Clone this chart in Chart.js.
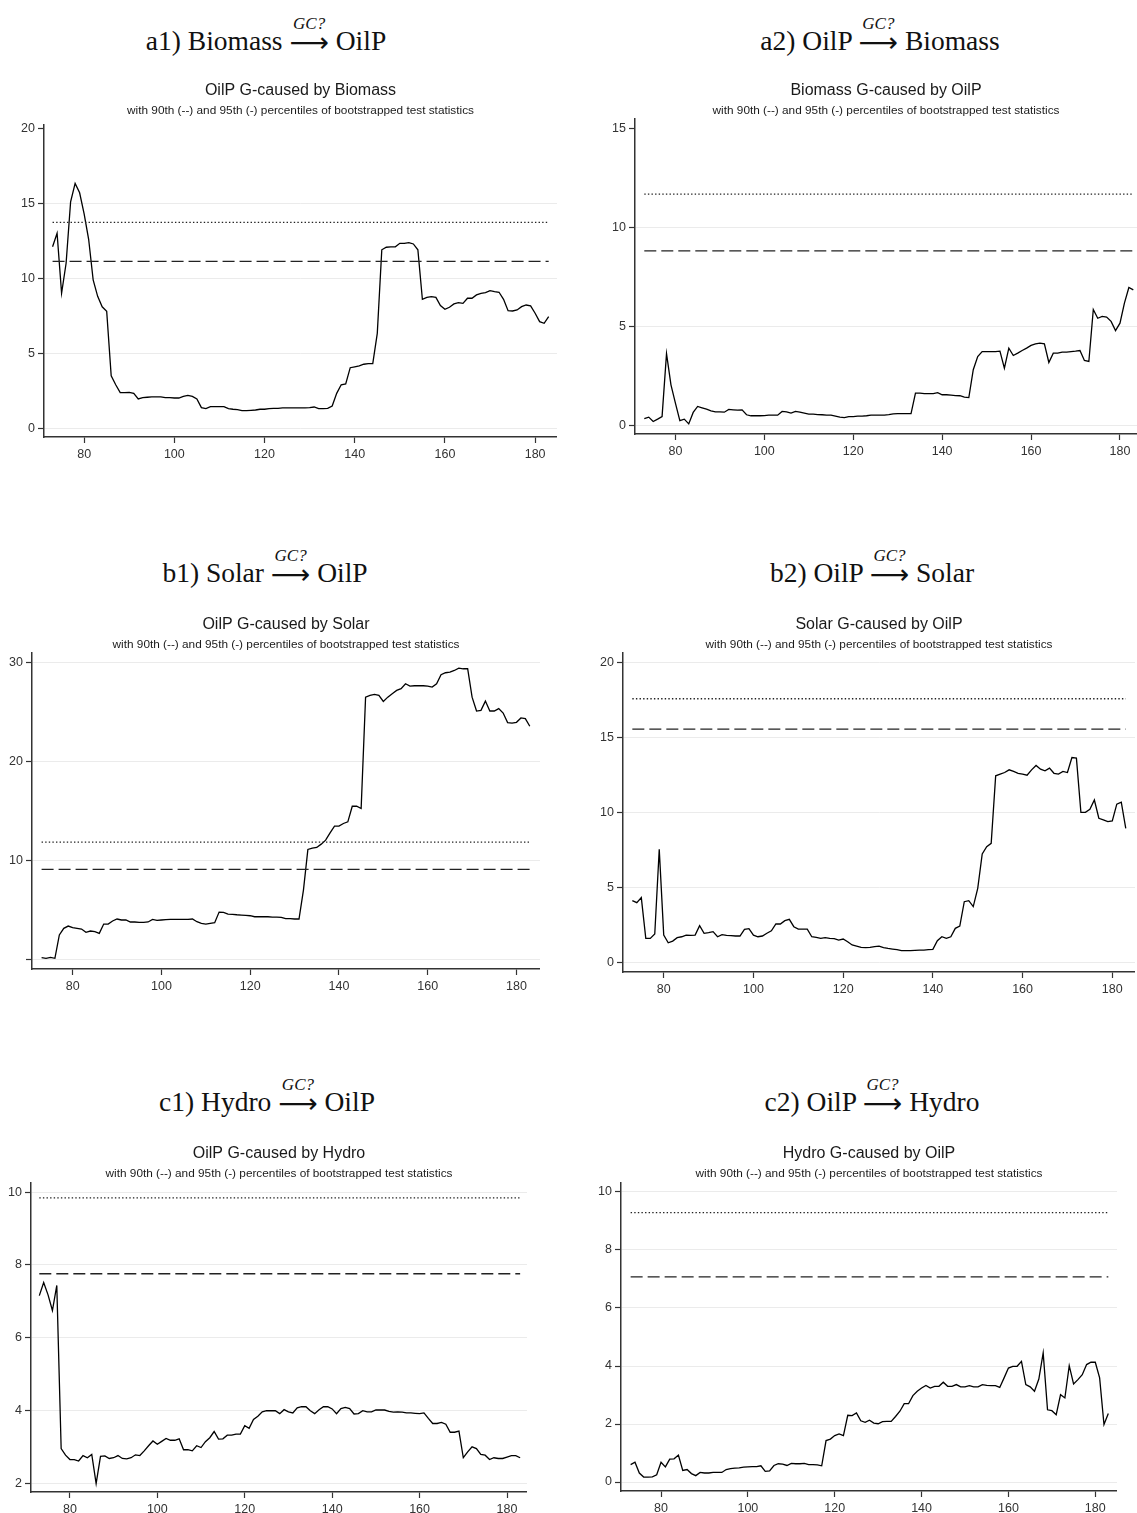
<!DOCTYPE html>
<html>
<head>
<meta charset="utf-8">
<script src="https://cdn.jsdelivr.net/npm/chart.js@4.4.1/dist/chart.umd.min.js"></script>
<style>
  body { margin: 0; background: #fff; width: 1137px; height: 1513px; position: relative; overflow: hidden; }
  canvas { position: absolute; }
  .big {
    position: absolute;
    font-family: "Liberation Serif", "Times New Roman", serif;
    font-size: 27.5px;
    line-height: 27.5px;
    color: #111;
    white-space: nowrap;
    transform: translateX(-50%);
  }
  .ov { position: relative; display: inline-block; }
  .ov .gc {
    position: absolute; left: 50%; top: -12px;
    transform: translateX(-50%);
    font-style: italic; font-size: 17px; line-height: 17px;
  }
  .ov .ar { position: relative; top: 2px; font-family: "DejaVu Sans", sans-serif; }
</style>
</head>
<body>
<script>
// x axis: periods 73..183
const periods = Array.from({ length: 111 }, (_, i) => 73 + i);
const xTicks = [80, 100, 120, 140, 160, 180];

// a1) OilP G-caused by Biomass
const biomassToOil = [
  12.1, 13.0, 9.0, 11.0, 15.1, 16.33, 15.7, 14.3, 12.6, 9.9,
  8.8, 8.1, 7.8, 3.5, 2.9, 2.38, 2.38, 2.4, 2.33, 1.96,
  2.04, 2.07, 2.09, 2.09, 2.1, 2.04, 2.04, 2.02, 2.02, 2.13,
  2.2, 2.13, 1.96, 1.38, 1.31, 1.44, 1.44, 1.44, 1.44, 1.31,
  1.27, 1.24, 1.18, 1.18, 1.2, 1.22, 1.27, 1.27, 1.31, 1.33,
  1.33, 1.36, 1.36, 1.36, 1.36, 1.36, 1.36, 1.38, 1.42, 1.31,
  1.31, 1.33, 1.49, 2.33, 2.9, 2.96, 4.04, 4.1, 4.16, 4.27,
  4.31, 4.31, 6.33, 11.9, 12.07, 12.1, 12.1, 12.33, 12.33, 12.38,
  12.29, 11.9, 8.6, 8.73, 8.78, 8.73, 8.18, 7.93, 8.07, 8.29,
  8.38, 8.33, 8.67, 8.67, 8.89, 9.0, 9.04, 9.18, 9.11, 9.07,
  8.6, 7.84, 7.82, 7.89, 8.11, 8.22, 8.16, 7.67, 7.11, 7.0, 7.44
];

// a2) Biomass G-caused by OilP
const oilToBiomass = [
  0.34, 0.42, 0.2, 0.32, 0.45, 3.62, 2.05, 1.13, 0.24, 0.32,
  0.08, 0.66, 0.96, 0.89, 0.82, 0.74, 0.69, 0.69, 0.67, 0.81,
  0.79, 0.77, 0.79, 0.54, 0.49, 0.49, 0.49, 0.5, 0.52, 0.52,
  0.52, 0.71, 0.69, 0.62, 0.71, 0.67, 0.62, 0.57, 0.57, 0.55,
  0.54, 0.52, 0.52, 0.47, 0.42, 0.4, 0.45, 0.45, 0.47, 0.47,
  0.49, 0.52, 0.52, 0.52, 0.52, 0.55, 0.59, 0.6, 0.6, 0.6,
  0.6, 1.63, 1.63, 1.61, 1.61, 1.61, 1.66, 1.55, 1.55, 1.53,
  1.51, 1.5, 1.43, 1.41, 2.81, 3.48, 3.73, 3.73, 3.73, 3.73,
  3.75, 2.89, 3.9, 3.53, 3.65, 3.78, 3.9, 4.04, 4.12, 4.15,
  4.12, 3.18, 3.65, 3.65, 3.7, 3.7, 3.73, 3.75, 3.78, 3.28,
  3.23, 5.85, 5.41, 5.5, 5.47, 5.25, 4.79, 5.16, 6.17, 6.96, 6.84
];

// b1) OilP G-caused by Solar
const solarToOil = [
  0.23, 0.17, 0.27, 0.17, 2.52, 3.19, 3.42, 3.26, 3.19, 3.12,
  2.79, 2.92, 2.85, 2.68, 3.62, 3.62, 3.93, 4.13, 4.03, 4.03,
  3.83, 3.83, 3.79, 3.79, 3.83, 4.09, 3.99, 4.03, 4.06, 4.09,
  4.09, 4.09, 4.09, 4.09, 4.13, 3.86, 3.69, 3.62, 3.69, 3.76,
  4.83, 4.8, 4.63, 4.6, 4.56, 4.53, 4.5, 4.46, 4.36, 4.36,
  4.36, 4.36, 4.33, 4.33, 4.3, 4.16, 4.16, 4.13, 4.13, 7.05,
  11.14, 11.28, 11.34, 11.68, 12.08, 12.82, 13.49, 13.49, 13.76, 13.93,
  15.5, 15.5, 15.27, 26.5, 26.68, 26.78, 26.68, 26.07, 26.5, 26.85,
  27.18, 27.35, 27.85, 27.62, 27.65, 27.65, 27.65, 27.62, 27.52, 27.85,
  28.76, 28.96, 29.03, 29.19, 29.43, 29.36, 29.36, 26.5, 25.1, 25.17,
  26.1, 25.1, 25.1, 25.34, 24.9, 23.93, 23.89, 23.96, 24.4, 24.33, 23.56
];

// b2) Solar G-caused by OilP
const oilToSolar = [
  4.12, 3.98, 4.32, 1.6, 1.6, 1.89, 7.54, 1.82, 1.31, 1.42,
  1.65, 1.71, 1.82, 1.8, 1.82, 2.45, 1.94, 1.98, 2.05, 1.71,
  1.85, 1.8, 1.78, 1.76, 1.76, 2.2, 2.25, 1.82, 1.71, 1.76,
  1.94, 2.11, 2.56, 2.56, 2.78, 2.87, 2.38, 2.22, 2.22, 2.22,
  1.71, 1.67, 1.6, 1.65, 1.6, 1.58, 1.49, 1.56, 1.38, 1.16,
  1.09, 1.0, 0.98, 1.0, 1.05, 1.09, 0.98, 0.93, 0.89, 0.85,
  0.78, 0.78, 0.78, 0.8, 0.82, 0.82, 0.85, 0.87, 1.45, 1.71,
  1.6, 1.71, 2.27, 2.42, 4.05, 4.12, 3.72, 4.94, 7.23, 7.72,
  7.94, 12.44, 12.55, 12.66, 12.84, 12.73, 12.61, 12.55, 12.48, 12.84,
  13.13, 12.88, 12.77, 12.95, 12.61, 12.55, 12.73, 12.66, 13.66, 13.62,
  10.01, 10.01, 10.21, 10.83, 9.61, 9.5, 9.39, 9.43, 10.55, 10.68, 8.94
];

// c1) OilP G-caused by Hydro
const hydroToOil = [
  7.16, 7.52, 7.18, 6.75, 7.44, 2.96, 2.78, 2.66, 2.66, 2.62,
  2.77, 2.71, 2.8, 2.0, 2.75, 2.76, 2.69, 2.71, 2.77, 2.69,
  2.68, 2.71, 2.79, 2.77, 2.9, 3.04, 3.17, 3.08, 3.16, 3.24,
  3.19, 3.19, 3.23, 2.93, 2.93, 2.9, 3.04, 2.99, 3.15, 3.26,
  3.43, 3.22, 3.23, 3.33, 3.33, 3.36, 3.36, 3.59, 3.52, 3.76,
  3.85, 3.97, 4.0, 4.0, 4.0, 3.92, 4.03, 3.97, 3.94, 4.08,
  4.11, 4.11, 4.0, 3.92, 4.03, 4.11, 4.11, 4.05, 3.92, 4.06,
  4.09, 4.06, 3.91, 3.92, 4.0, 3.97, 3.97, 4.02, 4.02, 4.02,
  3.98, 3.96, 3.97, 3.96, 3.94, 3.94, 3.93, 3.92, 3.94, 3.79,
  3.65, 3.65, 3.68, 3.63, 3.41, 3.41, 3.44, 2.71, 2.87, 3.01,
  2.96, 2.8, 2.78, 2.66, 2.71, 2.69, 2.69, 2.73, 2.77, 2.77, 2.71
];

// c2) Hydro G-caused by OilP
const oilToHydro = [
  0.6, 0.68, 0.31, 0.17, 0.17, 0.18, 0.25, 0.68, 0.52, 0.79,
  0.8, 0.93, 0.4, 0.43, 0.29, 0.22, 0.33, 0.31, 0.31, 0.33,
  0.33, 0.33, 0.43, 0.46, 0.48, 0.49, 0.51, 0.52, 0.53, 0.53,
  0.56, 0.37, 0.38, 0.57, 0.63, 0.62, 0.57, 0.64, 0.63, 0.63,
  0.64, 0.6, 0.6, 0.59, 0.56, 1.43, 1.48, 1.6, 1.66, 1.6,
  2.3, 2.29, 2.38, 2.11, 2.06, 2.13, 2.03, 2.01, 2.08, 2.09,
  2.09, 2.26, 2.44, 2.7, 2.7, 2.98, 3.13, 3.24, 3.33, 3.24,
  3.3, 3.3, 3.44, 3.3, 3.3, 3.36, 3.28, 3.28, 3.32, 3.28,
  3.28, 3.36, 3.33, 3.32, 3.32, 3.26, 3.59, 3.93, 3.99, 3.99,
  4.16, 3.36, 3.28, 3.13, 3.55, 4.45, 2.49, 2.46, 2.32, 3.01,
  2.9, 4.01, 3.38, 3.53, 3.7, 4.05, 4.13, 4.13, 3.59, 1.98, 2.36
];

// bootstrapped percentiles, panel order a1 a2 b1 b2 c1 c2
const pct90 = [11.13, 8.81, 9.13, 15.55, 7.76, 7.07];   // dashed
const pct95 = [13.73, 11.67, 11.88, 17.58, 9.84, 9.29]; // dotted

const yTicksA1 = [0, 5, 10, 15, 20];
const yTicksA2 = [0, 5, 10, 15];
const yTicksB1 = [0, 10, 20, 30];
const yLabelsB1 = ['', '10', '20', '30']; // zero label is cut off in the original
const yTicksB2 = [0, 5, 10, 15, 20];
const yTicksC1 = [2, 4, 6, 8, 10];
const yTicksC2 = [0, 2, 4, 6, 8, 10];

const SANS = "'Liberation Sans', Arial, sans-serif";
const SUBTITLE = 'with 90th (--) and 95th (-) percentiles of bootstrapped test statistics';
Chart.defaults.font.family = SANS;

// layout of each panel (page pixels)
const panels = [
  { head: 'a1) Biomass', tail: 'OilP', title: 'OilP G-caused by Biomass', values: biomassToOil, yTicks: yTicksA1,
    noTopGrid: true, bigX: 266, bigBase: 49.5, titleMid: 91,
    L: 44, R: 557, T: 125, B: 437, xMin: 71.1, xMax: 184.85, yMin: -0.58, yMax: 20.22 },
  { head: 'a2) OilP', tail: 'Biomass', title: 'Biomass G-caused by OilP', values: oilToBiomass, yTicks: yTicksA2,
    noTopGrid: true, bigX: 880, bigBase: 49.5, titleMid: 91,
    L: 635, R: 1137, T: 119, B: 434, xMin: 70.91, xMax: 183.83, yMin: -0.43, yMax: 15.46 },
  { head: 'b1) Solar', tail: 'OilP', title: 'OilP G-caused by Solar', values: solarToOil, yTicks: yTicksB1, yLabels: yLabelsB1,
    bigX: 265, bigBase: 582, titleMid: 624.5,
    L: 32, R: 540, T: 653, B: 969, xMin: 70.84, xMax: 185.3, yMin: -0.91, yMax: 30.95 },
  { head: 'b2) OilP', tail: 'Solar', title: 'Solar G-caused by OilP', values: oilToSolar, yTicks: yTicksB2,
    bigX: 872, bigBase: 582, titleMid: 624.5,
    L: 623, R: 1135, T: 653, B: 972, xMin: 70.92, xMax: 185.06, yMin: -0.64, yMax: 20.63 },
  { head: 'c1) Hydro', tail: 'OilP', title: 'OilP G-caused by Hydro', values: hydroToOil, yTicks: yTicksC1,
    bigX: 267, bigBase: 1111, titleMid: 1154,
    L: 31, R: 527, T: 1183, B: 1492, xMin: 71.1, xMax: 184.57, yMin: 1.77, yMax: 10.25 },
  { head: 'c2) OilP', tail: 'Hydro', title: 'Hydro G-caused by OilP', values: oilToHydro, yTicks: yTicksC2,
    bigX: 872, bigBase: 1111, titleMid: 1154,
    L: 621, R: 1117, T: 1183, B: 1491, xMin: 70.78, xMax: 185.0, yMin: -0.31, yMax: 10.31 }
];

const YW = 30;      // y axis box width
const XH = 30;      // x axis box height
const TITLE_SIZE = 16;
const SUB_SIZE = 11.8;
const TICK_SIZE = 12.5;

panels.forEach((p, i) => {
    // big serif heading with GC? over the arrow
    const big = document.createElement('div');
    big.className = 'big';
    big.style.left = p.bigX + 'px';
    big.style.top = (p.bigBase - 23) + 'px';
    big.innerHTML = `${p.head} <span class="ov"><span class="gc">GC?</span><span class="ar">⟶</span></span> ${p.tail}`;
    document.body.appendChild(big);

    const top = Math.round(p.titleMid - 11.6);
    const headerH = p.T - top;
    const subPadBottom = Math.max(0, headerH - (2 + TITLE_SIZE * 1.2 + 3.2 + SUB_SIZE * 1.2));

    const canvas = document.createElement('canvas');
    canvas.width = p.R - p.L + YW;
    canvas.height = p.B - top + XH;
    canvas.style.left = (p.L - YW) + 'px';
    canvas.style.top = top + 'px';
    canvas.style.width = canvas.width + 'px';
    canvas.style.height = canvas.height + 'px';
    document.body.appendChild(canvas);

    const first = periods[0], last = periods[periods.length - 1];
    const labels = p.yLabels || p.yTicks.map(String);
    const topTick = p.yTicks[p.yTicks.length - 1];

    new Chart(canvas.getContext('2d'), {
        type: 'line',
        data: {
            datasets: [
                {
                    data: [{ x: first, y: pct95[i] }, { x: last, y: pct95[i] }],
                    borderColor: '#222', borderWidth: 1.3, borderDash: [1.4, 2.2],
                    pointRadius: 0
                },
                {
                    data: [{ x: first, y: pct90[i] }, { x: last, y: pct90[i] }],
                    borderColor: '#222', borderWidth: 1.3, borderDash: [12, 5],
                    pointRadius: 0
                },
                {
                    data: periods.map((t, k) => ({ x: t, y: p.values[k] })),
                    borderColor: '#000', borderWidth: 1.3, tension: 0,
                    pointRadius: 0
                }
            ]
        },
        options: {
            responsive: false,
            animation: false,
            events: [],
            layout: { padding: 0 },
            plugins: {
                legend: { display: false },
                tooltip: { enabled: false },
                title: {
                    display: true, text: p.title, fullSize: false, color: '#1a1a1a',
                    font: { family: SANS, size: TITLE_SIZE, weight: 'normal' },
                    padding: { top: 2, bottom: 0 }
                },
                subtitle: {
                    display: true, text: SUBTITLE, fullSize: false, color: '#1a1a1a',
                    font: { family: SANS, size: SUB_SIZE, weight: 'normal' },
                    padding: { top: 3.2, bottom: subPadBottom }
                }
            },
            scales: {
                x: {
                    type: 'linear', min: p.xMin, max: p.xMax,
                    afterBuildTicks: s => { s.ticks = xTicks.map(v => ({ value: v })); },
                    afterFit: s => { s.height = XH; },
                    grid: { drawOnChartArea: false, drawTicks: true, tickLength: 6, tickColor: '#333', tickWidth: 1.2 },
                    border: { display: true, color: '#333', width: 1.5 },
                    ticks: { color: '#333', font: { size: TICK_SIZE }, padding: 4, maxRotation: 0, autoSkip: false }
                },
                y: {
                    type: 'linear', min: p.yMin, max: p.yMax,
                    afterBuildTicks: s => { s.ticks = p.yTicks.map(v => ({ value: v })); },
                    afterFit: s => { s.width = YW; },
                    grid: {
                        color: ctx => (p.noTopGrid && ctx.tick && ctx.tick.value === topTick) ? 'rgba(0,0,0,0)' : '#ebebeb',
                        lineWidth: 1, drawTicks: true, tickLength: 6, tickColor: '#333', tickWidth: 1.2
                    },
                    border: { display: true, color: '#333', width: 1.5 },
                    ticks: {
                        color: '#333', font: { size: TICK_SIZE }, padding: 3, autoSkip: false,
                        callback: (v, idx) => labels[idx]
                    }
                }
            }
        }
    });
});
</script>
</body>
</html>
